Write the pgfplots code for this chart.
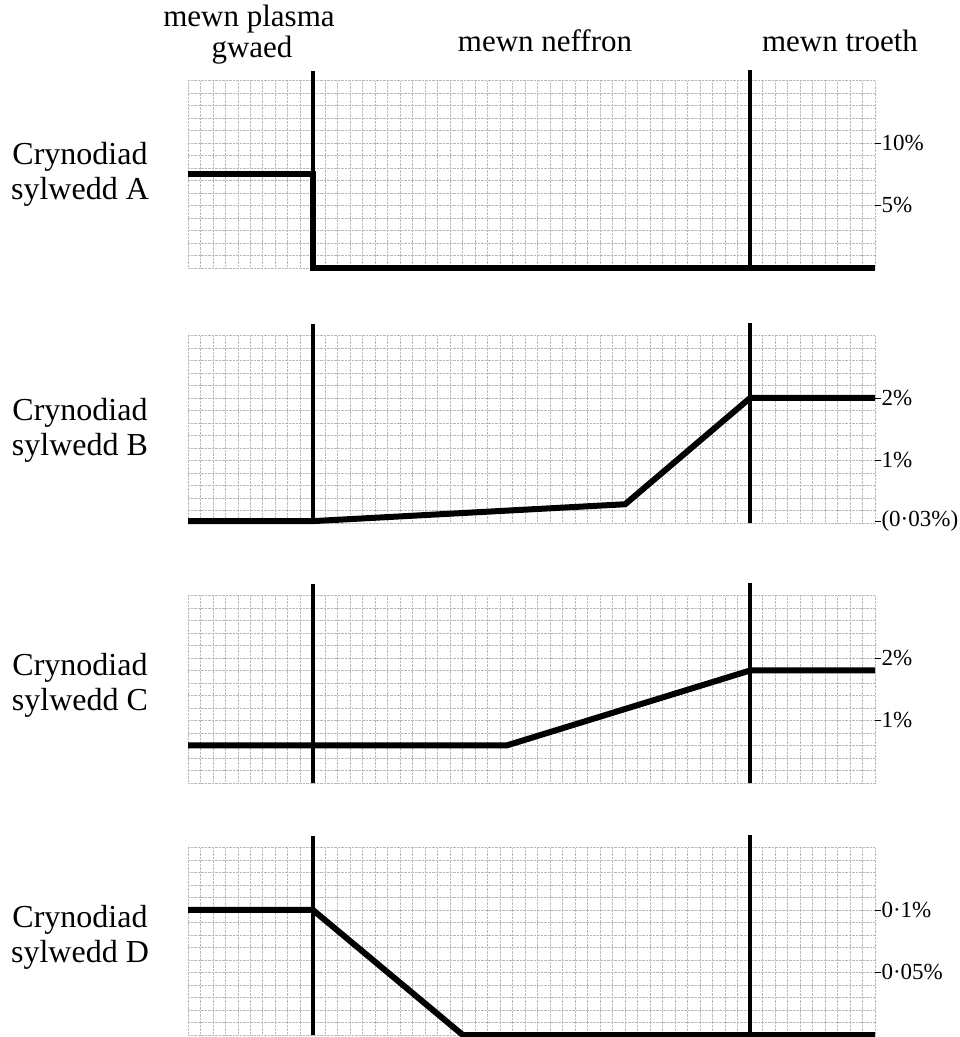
\documentclass[border=0pt]{standalone}
\usepackage{fontspec}
\setmainfont{Liberation Serif}
\usepackage{pgfplots}
\pgfplotsset{compat=1.18}

\pgfplotsset{
  panel/.style={
    width=687pt, height=187.5pt, scale only axis,
    anchor=south west, clip=false,
    xmin=0, xmax=55,
    axis line style={draw=none},
    xtick={0,1,...,55}, xticklabels={},
    x tick style={draw=none},
    ytick pos=right, tick align=outside,
    major tick length=6pt, minor tick length=0pt,
    y tick style={black, line width=0.8pt},
    xmajorgrids=true, yminorgrids=true,
    major grid style={gray!55, densely dotted, line width=0.9pt},
    minor grid style={gray!55, densely dotted, line width=0.9pt},
    yticklabel style={font=\fontsize{23}{25}\selectfont, anchor=west, xshift=-3pt},
  },
  sep/.style={black, line width=3.8pt},
  conc/.style={black, line width=6pt},
}

\begin{document}
\begin{tikzpicture}
\useasboundingbox (0,0) rectangle (960pt,1037pt);

% headings
\begin{scope}[every node/.style={font=\fontsize{31}{34}\selectfont, anchor=base}]
  \node at (249pt,1010pt) {mewn plasma};
  \node at (252pt,979pt) {gwaed};
  \node at (545pt,985pt) {mewn neffron};
  \node at (840pt,985pt) {mewn troeth};
\end{scope}

% row labels
\begin{scope}[every node/.style={font=\fontsize{32}{35}\selectfont, align=center}]
  \node at (80pt,863pt) {Crynodiad\\sylwedd A};
  \node at (80pt,607pt) {Crynodiad\\sylwedd B};
  \node at (80pt,352pt) {Crynodiad\\sylwedd C};
  \node at (80pt,100pt) {Crynodiad\\sylwedd D};
\end{scope}

% A
\begin{axis}[panel, at={(188pt,769pt)},
    ymin=0, ymax=15, minor ytick={0,1,...,15},
    ytick={5,10}, yticklabels={5\%,10\%}]
  \addplot[sep] coordinates {(10,0) (10,15.75)};
  \addplot[sep] coordinates {(45,0) (45,15.85)};
  \addplot[conc] coordinates {(0,7.5) (10,7.5) (10,0) (55,0)};
\end{axis}

% B
\begin{axis}[panel, at={(188pt,514pt)},
    ymin=0, ymax=3, minor ytick={0,0.2,0.4,0.6,0.8,1,1.2,1.4,1.6,1.8,2,2.2,2.4,2.6,2.8,3},
    ytick={0.03,1,2}, yticklabels={(0·03\%),1\%,2\%}]
  \addplot[sep] coordinates {(10,0) (10,3.19)};
  \addplot[sep] coordinates {(45,0) (45,3.2)};
  \addplot[conc] coordinates {(0,0.03) (10,0.03) (35,0.3) (45,2) (55,2)};
\end{axis}

% C
\begin{axis}[panel, at={(188pt,254pt)},
    ymin=0, ymax=3, minor ytick={0,0.2,0.4,0.6,0.8,1,1.2,1.4,1.6,1.8,2,2.2,2.4,2.6,2.8,3},
    ytick={1,2}, yticklabels={1\%,2\%}]
  \addplot[sep] coordinates {(10,0) (10,3.19)};
  \addplot[sep] coordinates {(45,0) (45,3.2)};
  \addplot[conc] coordinates {(0,0.6) (25.5,0.6) (45,1.8) (55,1.8)};
\end{axis}

% D
\begin{axis}[panel, at={(188pt,2pt)},
    ymin=0, ymax=0.15, minor ytick={0,0.01,0.02,0.03,0.04,0.05,0.06,0.07,0.08,0.09,0.1,0.11,0.12,0.13,0.14,0.15},
    ytick={0.05,0.1}, yticklabels={0·05\%,0·1\%}]
  \addplot[sep] coordinates {(10,0) (10,0.159)};
  \addplot[sep] coordinates {(45,0) (45,0.16)};
  \addplot[conc] coordinates {(0,0.1) (10,0.1) (22,0) (55,0)};
\end{axis}
\end{tikzpicture}
\end{document}
